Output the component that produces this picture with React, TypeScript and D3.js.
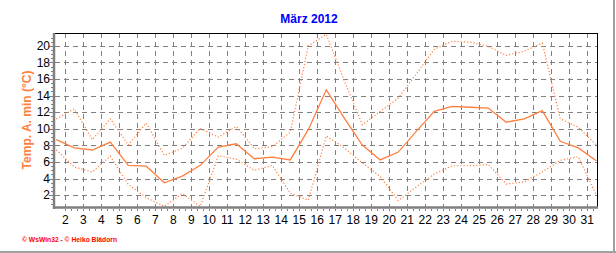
import React from "react";
import * as d3 from "d3";

const days = [1, 2, 3, 4, 5, 6, 7, 8, 9, 10, 11, 12, 13, 14, 15, 16, 17, 18, 19, 20, 21, 22, 23, 24, 25, 26, 27, 28, 29, 30, 31];
const meanMin = [8.7, 7.7, 7.45, 8.4, 5.6, 5.5, 3.5, 4.3, 5.6, 7.8, 8.2, 6.4, 6.6, 6.25, 9.9, 14.7, 11.3, 8.05, 6.25, 7.2, 9.7, 12.1, 12.7, 12.6, 12.5, 10.8, 11.2, 12.2, 8.5, 7.7, 6.15];
const highMin = [11.2, 12.4, 8.7, 11.2, 8.05, 10.7, 6.8, 7.65, 10.05, 9.0, 10.3, 7.6, 7.85, 9.6, 20.0, 21.4, 15.8, 10.5, 12.1, 13.7, 16.6, 19.6, 20.55, 20.45, 19.95, 18.85, 19.35, 20.35, 11.2, 10.2, 8.05];
const lowMin = [7.45, 5.4, 4.8, 6.7, 3.3, 1.7, 0.65, 2.2, 0.65, 6.75, 6.35, 5.0, 5.6, 2.25, 1.4, 9.15, 7.7, 5.9, 4.25, 1.35, 3.0, 4.55, 5.55, 5.55, 5.7, 3.35, 3.6, 4.8, 6.2, 6.65, 2.0];
const xTickLabels = [2, 3, 4, 5, 6, 7, 8, 9, 10, 11, 12, 13, 14, 15, 16, 17, 18, 19, 20, 21, 22, 23, 24, 25, 26, 27, 28, 29, 30, 31];
const yTicks = [2, 4, 6, 8, 10, 12, 14, 16, 18, 20];

const W = 616;
const H = 253;
const L = 55;
const R = 597;
const T = 33;
const B = 207;
const ORANGE = "#FF7F3F";
const GRID = "#808080";
const FONT = "'Liberation Sans', Arial, sans-serif";

export default function App() {
  const x = d3.scaleLinear().domain([1.428, 31.54]).range([L, R]);
  const y = d3.scaleLinear().domain([0.58, 21.55]).range([B, T]);
  const px = (d: number) => x(d + 0.5);
  const line = (vals: number[]) =>
    d3.line<number>().x((_, i) => px(days[i])).y((v) => y(v))(vals) || "";

  const yMinor = d3.range(1, 21.5, 0.5);
  const xMinor = d3.range(2, 31.6, 1 / 3);

  return (
    <svg width={W} height={H} style={{ position: "absolute", left: 0, top: 0, background: "#fff" }}>
      <rect x={0} y={0} width={W} height={H} fill="#fff" />
      {/* frame */}
      <line x1={614} y1={0} x2={614} y2={H} stroke="#A0A0A0" strokeWidth={2} />
      <line x1={0} y1={252} x2={W} y2={252} stroke="#A0A0A0" strokeWidth={2} />

      <text x={309} y={23} textAnchor="middle" fill="#0000FF" fontWeight="bold" fontSize={12} fontFamily={FONT}>
        März 2012
      </text>

      {/* grid */}
      {yTicks.map((t) => (
        <line key={"hy" + t} x1={L} x2={R} y1={Math.round(y(t)) + 0.5} y2={Math.round(y(t)) + 0.5} stroke={GRID} strokeDasharray="5,4" />
      ))}
      {xTickLabels.map((t) => (
        <line key={"vx" + t} x1={Math.round(x(t)) + 0.5} x2={Math.round(x(t)) + 0.5} y1={T} y2={B} stroke={GRID} strokeDasharray="5,4" />
      ))}

      {/* series */}
      <defs>
        <clipPath id="clip">
          <rect x={L} y={T} width={R - L} height={B - T} />
        </clipPath>
      </defs>
      <g clipPath="url(#clip)">
        <path d={line(highMin)} fill="none" stroke={ORANGE} strokeWidth={1.2} strokeDasharray="1.2,2" />
        <path d={line(lowMin)} fill="none" stroke={ORANGE} strokeWidth={1.2} strokeDasharray="1.2,2" />
        <path d={line(meanMin)} fill="none" stroke={ORANGE} strokeWidth={1.3} />
      </g>

      {/* borders */}
      <line x1={L} x2={R + 0.5} y1={T + 0.5} y2={T + 0.5} stroke="#000" />
      <line x1={R + 0.5} x2={R + 0.5} y1={T} y2={B} stroke="#000" />
      <line x1={L - 1} x2={L - 1} y1={T} y2={B + 2} stroke={GRID} strokeWidth={2.5} />
      <line x1={L - 2} x2={R + 1} y1={B + 0.5} y2={B + 0.5} stroke={GRID} strokeWidth={2.5} />

      {/* y ticks */}
      {yMinor.map((t) => (
        <line key={"ym" + t} x1={L - 4} x2={L - 2} y1={Math.round(y(t)) + 0.5} y2={Math.round(y(t)) + 0.5} stroke={GRID} />
      ))}
      {yTicks.map((t) => (
        <g key={"yt" + t}>
          <line x1={L - 6} x2={L - 2} y1={Math.round(y(t)) + 0.5} y2={Math.round(y(t)) + 0.5} stroke={GRID} />
          <text x={L - 5} y={y(t)} dy="0.35em" textAnchor="end" fontSize={12} fontFamily={FONT} fill="#000">
            {t}
          </text>
        </g>
      ))}

      {/* x ticks */}
      {xMinor.map((t, i) => (
        <line key={"xm" + i} x1={Math.round(x(t)) + 0.5} x2={Math.round(x(t)) + 0.5} y1={B + 2} y2={B + 4} stroke={GRID} />
      ))}
      {xTickLabels.map((t) => (
        <text key={"xt" + t} x={x(t)} y={224} textAnchor="middle" fontSize={12} fontFamily={FONT} fill="#000">
          {t}
        </text>
      ))}

      <text
        transform={`translate(31,120) rotate(-90)`}
        textAnchor="middle"
        fill={ORANGE}
        fontWeight="bold"
        fontSize={12}
        fontFamily={FONT}
      >
        Temp. A. min (°C)
      </text>

      <text x={22} y={242} fontSize={8} fontWeight="bold" fontFamily={FONT} fill="#FF0000" textLength={95} lengthAdjust="spacingAndGlyphs">
        © WsWin32 - © Heiko Blädorn
      </text>
    </svg>
  );
}
